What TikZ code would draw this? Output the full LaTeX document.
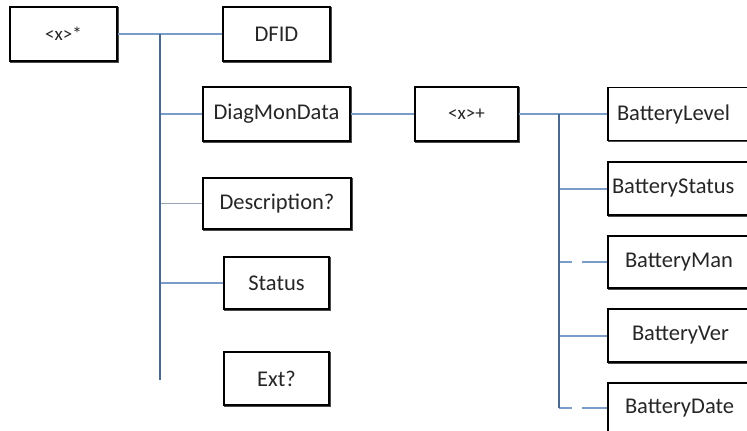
\documentclass[tikz,border=0pt]{standalone}
\usepackage{fontspec}
\setmainfont{Carlito}
\begin{document}
\begin{tikzpicture}[x=1pt,y=-1pt,
  box/.style={draw=black,line width=1.6pt,fill=white,minimum height=#1,inner sep=0pt,
    font=\fontsize{22.5}{26}\selectfont,text=black!85},
  box/.default={54pt},
  small/.style={font=\fontsize{19}{22}\selectfont},
  shadowed/.style={preaction={draw=black!70,line width=1.6pt,transform canvas={shift={(1pt,-1pt)}}}},
  trunk/.style={draw={rgb,255:red,74;green,104;blue,144},line width=2pt},
  branch/.style={draw={rgb,255:red,122;green,156;blue,200},line width=2pt},
  thinbranch/.style={draw={rgb,255:red,150;green,165;blue,185},line width=1pt},
  dashbranch/.style={branch,dash pattern=on 13pt off 10pt on 40pt off 0pt},
  bat/.style={box,shadowed,minimum width=142pt,minimum height=53pt,text width=142pt,align=left}]
\useasboundingbox (0,0) rectangle (747,431);
\begin{scope}
\clip (0,0) rectangle (747,431);
% trunk coordinates
\coordinate (t1top) at (160,34);
\coordinate (t1bot) at (160,380);
\coordinate (t2top) at (559,114);
\coordinate (t2bot) at (559,408);
% nodes
\node[box,shadowed,minimum width=107pt,small] (root) at (63.5,34) {<x>*};
\node[box,shadowed,minimum width=107pt] (dfid) at (276.5,34) {DFID};
\node[box,shadowed,minimum width=147pt] (diag) at (276.5,114) {DiagMonData};
\node[box,shadowed,minimum width=148pt,minimum height=51pt] (desc) at (277,203.5) {Description?};
\node[box,shadowed,minimum width=105pt,minimum height=52pt] (status) at (276.5,283) {Status};
\node[box,shadowed,minimum width=105pt,minimum height=53pt] (ext) at (276.5,378.5) {Ext?};
\node[box,shadowed,minimum width=103pt,small] (xplus) at (466.5,114) {<x>+};
\node[bat] (bl) at (679,114) {\hspace{9pt}BatteryLevel};
\node[bat] (bs) at (679,188.5) {\hspace{4pt}BatteryStatus};
\node[bat,minimum height=52pt] (bm) at (679,262) {\hspace{17pt}BatteryMan};
\node[bat] (bv) at (679,335.5) {\hspace{24pt}BatteryVer};
\node[bat,minimum height=50pt] (bd) at (679,408) {\hspace{17pt}BatteryDate};
% connectors
\draw[branch] (root.east) -- (dfid.west);
\draw[branch] (diag.west -| t1top) -- (diag.west);
\draw[thinbranch] (desc.west -| t1top) -- (desc.west);
\draw[branch] (status.west -| t1top) -- (status.west);
\draw[trunk] (t1top) -- (t1bot);
\draw[branch] (diag.east) -- (xplus.west);
\draw[branch] (xplus.east) -- (bl.west);
\draw[branch] (bs.west -| t2top) -- (bs.west);
\draw[dashbranch] (bm.west -| t2top) -- (bm.west);
\draw[branch] (bv.west -| t2top) -- (bv.west);
\draw[dashbranch] (bd.west -| t2top) -- (bd.west);
\draw[trunk] (t2top) -- (t2bot);
\end{scope}
\end{tikzpicture}
\end{document}
